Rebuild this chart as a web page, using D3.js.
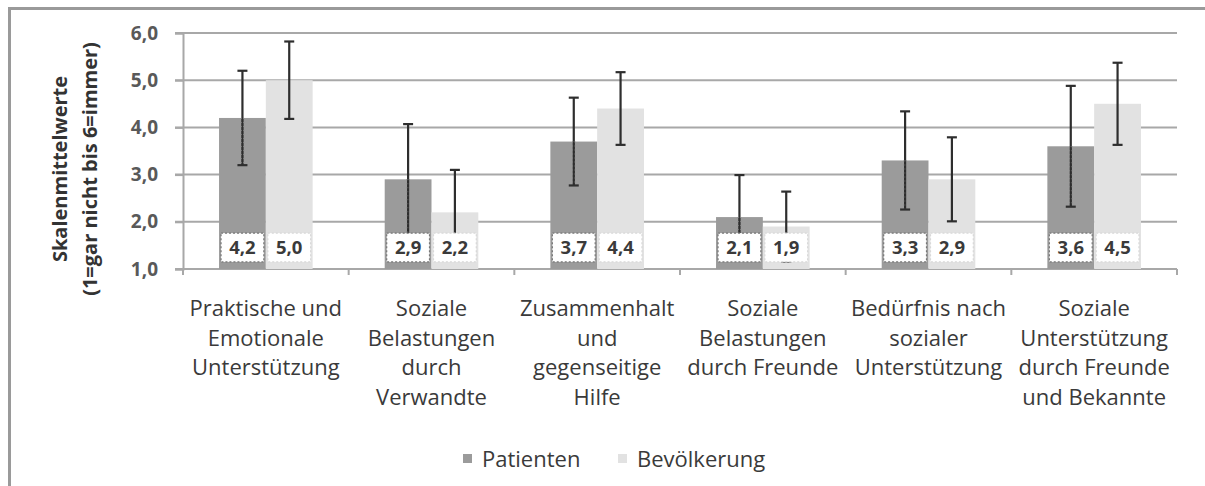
<!DOCTYPE html>
<html>
<head>
<meta charset="utf-8">
<script src="https://cdn.jsdelivr.net/npm/d3@7"></script>
<style>
  body { margin: 0; background: #fff; }
  svg { display: block; }
  text { font-family: "Open Sans", sans-serif; }
</style>
</head>
<body>
<div id="chart"></div>
<script>
// categories (line breaks as in the original axis labels)
const categories = [
    "Praktische und\nEmotionale\nUnterstützung",
    "Soziale\nBelastungen\ndurch\nVerwandte",
    "Zusammenhalt\nund\ngegenseitige\nHilfe",
    "Soziale\nBelastungen\ndurch Freunde",
    "Bedürfnis nach\nsozialer\nUnterstützung",
    "Soziale\nUnterstützung\ndurch Freunde\nund Bekannte"
];
const seriesNames = ["Patienten", "Bevölkerung"];
const patienten = [4.2, 2.9, 3.7, 2.1, 3.3, 3.6];
const bevoelkerung = [5.0, 2.2, 4.4, 1.9, 2.9, 4.5];
const patientenSD = [1.0, 1.17, 0.93, 0.89, 1.04, 1.28];
const bevoelkerungSD = [0.82, 0.9, 0.77, 0.74, 0.89, 0.87];
const yTicks = [1, 2, 3, 4, 5, 6];
const yTitle = ["Skalenmittelwerte", "(1=gar nicht bis 6=immer)"];

const W = 1205, H = 486;
const colors = { "Patienten": "#9b9b9b", "Bevölkerung": "#e2e2e2" };

let svg = d3.select('#chart').append('svg')
    .attr('width', W)
    .attr('height', H);

// outer frame (left + top edge only visible)
svg.append('path')
    .attr('d', 'M9.5,486 L9.5,8.5 L1205,8.5')
    .attr('fill', 'none')
    .attr('stroke', '#9a9a9a')
    .attr('stroke-width', 3);

let margin = { left: 183, right: 28, top: 33, bottom: 217 };
let x0 = d3.scaleBand().domain(d3.range(categories.length))
    .range([margin.left, W - margin.right]).padding(0);
let x1 = d3.scaleBand().domain(seriesNames)
    .range([0, x0.bandwidth()]).paddingInner(0).paddingOuter(0.77);
let y = d3.scaleLinear().domain([1, 6]).range([H - margin.bottom, margin.top]);

// gridlines
svg.append('g')
    .selectAll('line')
    .data(yTicks)
    .enter().append('line')
    .attr('x1', margin.left - 8)
    .attr('x2', W - margin.right)
    .attr('y1', d => y(d))
    .attr('y2', d => y(d))
    .attr('stroke', '#a8a8a8')
    .attr('stroke-width', 2);

// y axis
let yAxis = svg.append('g')
    .attr('transform', 'translate(' + margin.left + ',0)')
    .call(d3.axisLeft(y).tickValues(yTicks).tickSize(8).tickPadding(17)
        .tickFormat(d => d3.format('.1f')(d).replace('.', ',')));
yAxis.select('.domain').attr('stroke', '#a8a8a8').attr('stroke-width', 2);
yAxis.selectAll('.tick line').attr('stroke', '#a8a8a8').attr('stroke-width', 2);
yAxis.selectAll('.tick text')
    .style('font-family', '"Open Sans", sans-serif')
    .style('font-size', '19px')
    .style('font-weight', 700)
    .attr('fill', '#595959');

// y title
svg.append('text')
    .attr('transform', 'translate(67,169) rotate(-90)')
    .attr('text-anchor', 'middle')
    .style('font-size', '20px')
    .style('font-weight', 700)
    .attr('fill', '#333')
    .selectAll('tspan')
    .data(yTitle)
    .enter().append('tspan')
    .attr('x', 0)
    .attr('dy', (d, i) => i === 0 ? 0 : 30)
    .text(d => d);

// x axis line + boundary ticks
let baseY = y(1);
svg.append('line')
    .attr('x1', margin.left).attr('x2', W - margin.right)
    .attr('y1', baseY).attr('y2', baseY)
    .attr('stroke', '#a8a8a8').attr('stroke-width', 2);
svg.append('g').selectAll('line')
    .data(d3.range(categories.length + 1))
    .enter().append('line')
    .attr('x1', d => margin.left + d * x0.step())
    .attr('x2', d => margin.left + d * x0.step())
    .attr('y1', baseY).attr('y2', baseY + 6)
    .attr('stroke', '#a8a8a8').attr('stroke-width', 2);

// data rows
let rows = [];
categories.forEach(function(c, i) {
    rows.push({ cat: i, series: "Patienten", value: patienten[i], sd: patientenSD[i] });
    rows.push({ cat: i, series: "Bevölkerung", value: bevoelkerung[i], sd: bevoelkerungSD[i] });
});
const barX = d => x0(d.cat) + x1(d.series);
const bw = x1.bandwidth();

// bars
svg.append('g').selectAll('rect')
    .data(rows)
    .enter().append('rect')
    .attr('x', barX)
    .attr('width', bw)
    .attr('y', d => y(d.value))
    .attr('height', d => baseY - y(d.value))
    .attr('fill', d => colors[d.series]);

// error bars
let eb = svg.append('g').selectAll('g')
    .data(rows)
    .enter().append('g')
    .attr('transform', d => 'translate(' + (barX(d) + bw / 2) + ',0)');
eb.append('line')
    .attr('y1', d => y(d.value + d.sd))
    .attr('y2', d => y(d.value - d.sd))
    .attr('stroke', '#2e2e2e')
    .attr('stroke-width', 2.2);
// dotted look where the line runs through the dark bar
eb.filter(d => d.series === "Patienten").append('line')
    .attr('y1', d => y(d.value))
    .attr('y2', d => y(d.value - d.sd))
    .attr('stroke', '#8a8a8a')
    .attr('stroke-width', 3.5)
    .attr('stroke-dasharray', '1,3');
eb.filter(d => d.series === "Patienten").append('line')
    .attr('y1', d => y(d.value))
    .attr('y2', d => y(d.value - d.sd))
    .attr('stroke', '#2e2e2e')
    .attr('stroke-width', 1.4);
[1, -1].forEach(function(s) {
    eb.append('line')
        .attr('x1', -5).attr('x2', 5)
        .attr('y1', d => y(d.value + s * d.sd))
        .attr('y2', d => y(d.value + s * d.sd))
        .attr('stroke', '#2e2e2e')
        .attr('stroke-width', 2.2);
});

// value labels in boxes at the bar base
let lbl = svg.append('g').selectAll('g')
    .data(rows)
    .enter().append('g')
    .attr('transform', d => 'translate(' + (barX(d) + bw / 2) + ',0)');
lbl.append('rect')
    .attr('x', -bw / 2 + 2)
    .attr('width', bw - 4)
    .attr('y', y(1.76))
    .attr('height', y(1.15) - y(1.76))
    .attr('fill', '#fff')
    .attr('stroke', d => d.series === "Patienten" ? '#777' : '#d8d8d8')
    .attr('stroke-width', 1.2)
    .attr('stroke-dasharray', '2,2');
lbl.append('text')
    .attr('y', (y(1.76) + y(1.15)) / 2)
    .attr('dy', '0.36em')
    .attr('text-anchor', 'middle')
    .style('font-size', '18.5px')
    .style('font-weight', 700)
    .attr('fill', '#3a3a3a')
    .text(d => d3.format('.1f')(d.value).replace('.', ','));

// category labels
svg.append('g').selectAll('text')
    .data(categories)
    .enter().append('text')
    .attr('x', (d, i) => x0(i) + x0.bandwidth() / 2)
    .attr('y', 316)
    .attr('text-anchor', 'middle')
    .style('font-size', '22px')
    .attr('fill', '#3a3a3a')
    .each(function(d) {
        let t = d3.select(this);
        d.split('\n').forEach(function(line, k) {
            t.append('tspan')
                .attr('x', t.attr('x'))
                .attr('dy', k === 0 ? 0 : 29.5)
                .text(line);
        });
    });

// legend
let legendX = [463, 618];
let leg = svg.append('g').selectAll('g')
    .data(seriesNames)
    .enter().append('g')
    .attr('transform', (d, i) => 'translate(' + legendX[i] + ',459)');
leg.append('rect')
    .attr('x', 0).attr('y', -5)
    .attr('width', 9).attr('height', 9)
    .attr('fill', d => colors[d]);
leg.append('text')
    .attr('x', 19)
    .attr('dy', '0.35em')
    .style('font-size', '22px')
    .attr('fill', '#3a3a3a')
    .text(d => d);
</script>
</body>
</html>
